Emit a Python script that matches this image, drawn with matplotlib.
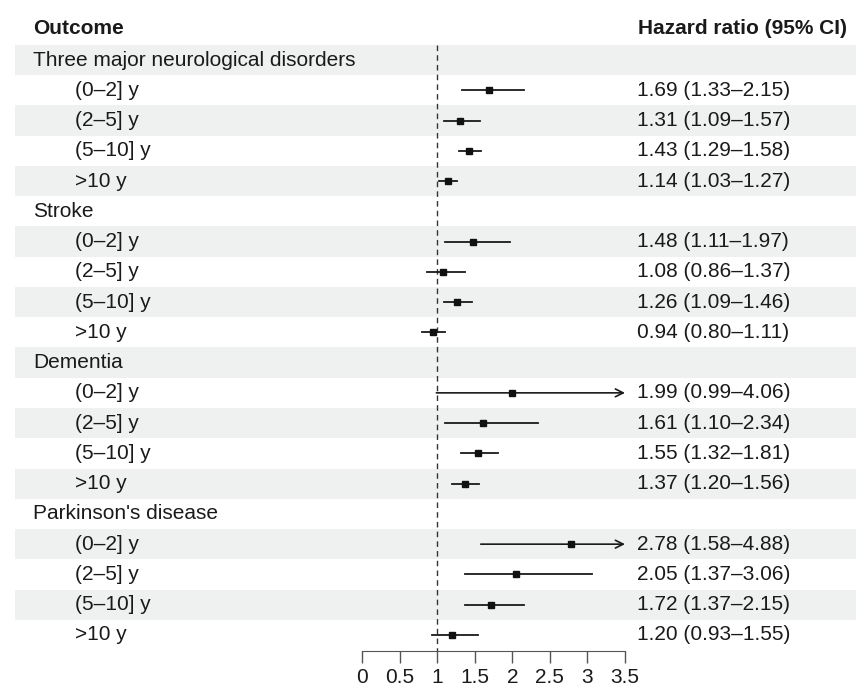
import numpy as np
import matplotlib.pyplot as plt

plt.rcParams['font.family'] = ['Liberation Sans', 'DejaVu Sans']

# outcome groups and their time-window subgroups
groups = ["Three major neurological disorders", "Stroke", "Dementia", "Parkinson's disease"]
windows = ["(0–2] y", "(2–5] y", "(5–10] y", ">10 y"]

# hazard ratios and 95% CI, one list per group, in window order
hr = [[1.69, 1.31, 1.43, 1.14],
      [1.48, 1.08, 1.26, 0.94],
      [1.99, 1.61, 1.55, 1.37],
      [2.78, 2.05, 1.72, 1.20]]
lower = [[1.33, 1.09, 1.29, 1.03],
         [1.11, 0.86, 1.09, 0.80],
         [0.99, 1.10, 1.32, 1.20],
         [1.58, 1.37, 1.37, 0.93]]
upper = [[2.15, 1.57, 1.58, 1.27],
         [1.97, 1.37, 1.46, 1.11],
         [4.06, 2.34, 1.81, 1.56],
         [4.88, 3.06, 2.15, 1.55]]

xticks = [0, 0.5, 1, 1.5, 2, 2.5, 3, 3.5]
x_max = 3.5

W, H = 865, 695
fig = plt.figure(figsize=(W / 100, H / 100), dpi=100)
ax = fig.add_axes([0, 0, 1, 1])

# pixel mapping: 0 -> 362 px, 3.5 -> 625 px; row 0 at 60 px, spacing 30.26 px
px_per_unit = (625 - 362) / 3.5
row_h = 30.26
ax.set_xlim(-362 / px_per_unit, (W - 362) / px_per_unit)
ax.set_ylim((H - 60) / row_h, -60 / row_h)

txt_col = '#1a1a1a'
fs = 15

# build rows
rows = []
for g, name in enumerate(groups):
    rows.append((name, None))
    for w, lab in enumerate(windows):
        rows.append((lab, (hr[g][w], lower[g][w], upper[g][w])))

for i, (lab, vals) in enumerate(rows):
    if i % 2 == 0:
        ax.axhspan(i - 0.5, i + 0.5, xmin=15 / W, xmax=856 / W,
                   color='#eff1f1', lw=0, zorder=0)
    xlab = 33 if vals is None else 75
    ax.text(xlab / W, i, lab, transform=ax.get_yaxis_transform(),
            ha='left', va='center', fontsize=fs, color=txt_col)
    if vals is None:
        continue
    est, lo, hi = vals
    ax.text(637 / W, i, f"{est:.2f} ({lo:.2f}–{hi:.2f})",
            transform=ax.get_yaxis_transform(),
            ha='left', va='center', fontsize=fs, color=txt_col)
    if hi > x_max:
        ax.annotate('', xy=(x_max, i), xytext=(lo, i),
                    arrowprops=dict(arrowstyle='->', color='#1a1a1a', lw=1.2,
                                    shrinkA=0, shrinkB=0, mutation_scale=14),
                    zorder=3)
    else:
        ax.plot([lo, hi], [i, i], color='#1a1a1a', lw=1.3, zorder=3)
    ax.plot(est, i, marker='s', ms=4, color='#111111', zorder=4)

# headers
ax.text(33 / W, -1.05, "Outcome", transform=ax.get_yaxis_transform(),
        ha='left', va='center', fontsize=fs, fontweight='bold', color=txt_col)
ax.text(847 / W, -1.05, "Hazard ratio (95% CI)", transform=ax.get_yaxis_transform(),
        ha='right', va='center', fontsize=fs, fontweight='bold', color=txt_col)

# reference line at HR = 1
axis_y = (651 - 60) / row_h
ax.plot([1, 1], [-0.5, axis_y], color='#333333', lw=1, ls=(0, (4, 3)), zorder=2)

# x axis
for s in ['top', 'left', 'right']:
    ax.spines[s].set_visible(False)
ax.spines['bottom'].set_position(('data', axis_y))
ax.spines['bottom'].set_bounds(0, x_max)
ax.spines['bottom'].set_color('#555555')
ax.set_xticks(xticks)
ax.set_xticklabels([f"{t:g}" for t in xticks])
ax.tick_params(axis='x', direction='out', length=8.6, width=1, color='#555555',
               labelsize=fs, labelcolor=txt_col, pad=3.5)
ax.set_yticks([])
ax.patch.set_alpha(0)

fig.savefig('out.png', dpi=100)
